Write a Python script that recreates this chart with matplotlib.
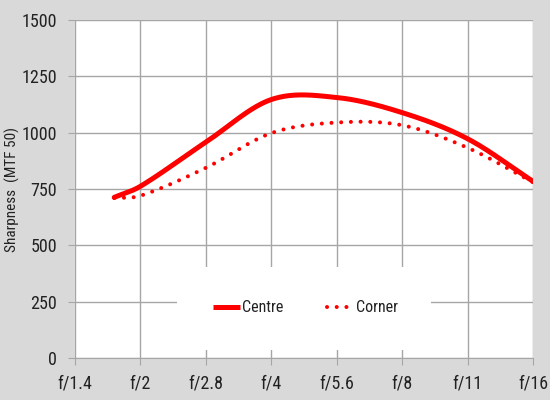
import numpy as np
import matplotlib
matplotlib.use("Agg")
import matplotlib.pyplot as plt
from matplotlib.patches import Rectangle

plt.rcParams['font.family'] = ['Roboto Condensed', 'DejaVu Sans']
plt.rcParams['font.stretch'] = 'condensed'

# stops from f/1.4 (category index); first reading sits a little before f/2
stops = [0.6, 1, 2, 3, 4, 5, 6, 7]
centre = [713, 762, 958, 1147, 1156, 1089, 973, 784]
corner = [710, 720, 844, 998, 1045, 1033, 933, 780]
fstop_labels = ["f/1.4", "f/2", "f/2.8", "f/4", "f/5.6", "f/8", "f/11", "f/16"]
yticks = [0, 250, 500, 750, 1000, 1250, 1500]


def smooth(xs, ys, n=40):
    # smoothed line through the points (cubic hermite, finite-difference slopes)
    x = np.asarray(xs, float)
    y = np.asarray(ys, float)
    m = np.empty_like(y)
    m[1:-1] = (y[2:] - y[:-2]) / (x[2:] - x[:-2])
    m[0] = (y[1] - y[0]) / (x[1] - x[0])
    m[-1] = (y[-1] - y[-2]) / (x[-1] - x[-2])
    ox, oy = [], []
    t = np.linspace(0, 1, n)
    for i in range(len(x) - 1):
        h = x[i + 1] - x[i]
        h00 = 2 * t**3 - 3 * t**2 + 1
        h10 = t**3 - 2 * t**2 + t
        h01 = -2 * t**3 + 3 * t**2
        h11 = t**3 - t**2
        ox.append(x[i] + t * h)
        oy.append(h00 * y[i] + h10 * h * m[i] + h01 * y[i + 1] + h11 * h * m[i + 1])
    return np.concatenate(ox), np.concatenate(oy)


fig = plt.figure(figsize=(5.5, 4), dpi=100, facecolor='#d9d9d9')
ax = fig.add_axes([75 / 550, 1 - 358 / 400, 458 / 550, 338 / 400])
ax.set_facecolor('white')
ax.set_axisbelow(True)

cx, cy = smooth(stops, centre)
ax.plot(cx, cy, color='#ff0000', lw=3.6, solid_capstyle='round', label='Centre', zorder=3)
kx, ky = smooth(stops, corner)
ax.plot(kx, ky, color='#ff0000', lw=2.9, linestyle=(0, (0.01, 2.4)),
        dash_capstyle='round', label='Corner', zorder=2.5)

ax.set_xlim(0, 7)
ax.set_ylim(0, 1500)
ax.set_xticks(range(len(fstop_labels)))
ax.set_xticklabels(fstop_labels)
ax.set_yticks(yticks)
ax.grid(True, color='#a6a6a6', lw=1)
for s in ax.spines.values():
    s.set_visible(False)
ax.spines['bottom'].set_visible(True)
ax.spines['bottom'].set_color('#a6a6a6')
ax.tick_params(axis='both', length=5, color='#a6a6a6', labelsize=13, labelcolor='#222222')
ax.tick_params(axis='x', pad=7)
ax.tick_params(axis='y', pad=8)
ax.set_ylabel('Sharpness  (MTF 50)', fontsize=11, color='#222222')
ax.yaxis.set_label_coords(-0.12, 0.5)

# white panel behind the legend hides the grid
ax.add_patch(Rectangle((0.223, 0.024), 0.554, 0.245, transform=ax.transAxes,
                       facecolor='white', edgecolor='none', zorder=1))
leg = ax.legend(loc='center', bbox_to_anchor=(0.503, 0.148), ncol=2, frameon=False,
                fontsize=11.5, handlelength=1.7, handletextpad=0.15, columnspacing=2.7,
                labelcolor='#222222')
leg.get_lines()[0].set_solid_capstyle('butt')

fig.savefig('out.png', dpi=100, facecolor=fig.get_facecolor())
